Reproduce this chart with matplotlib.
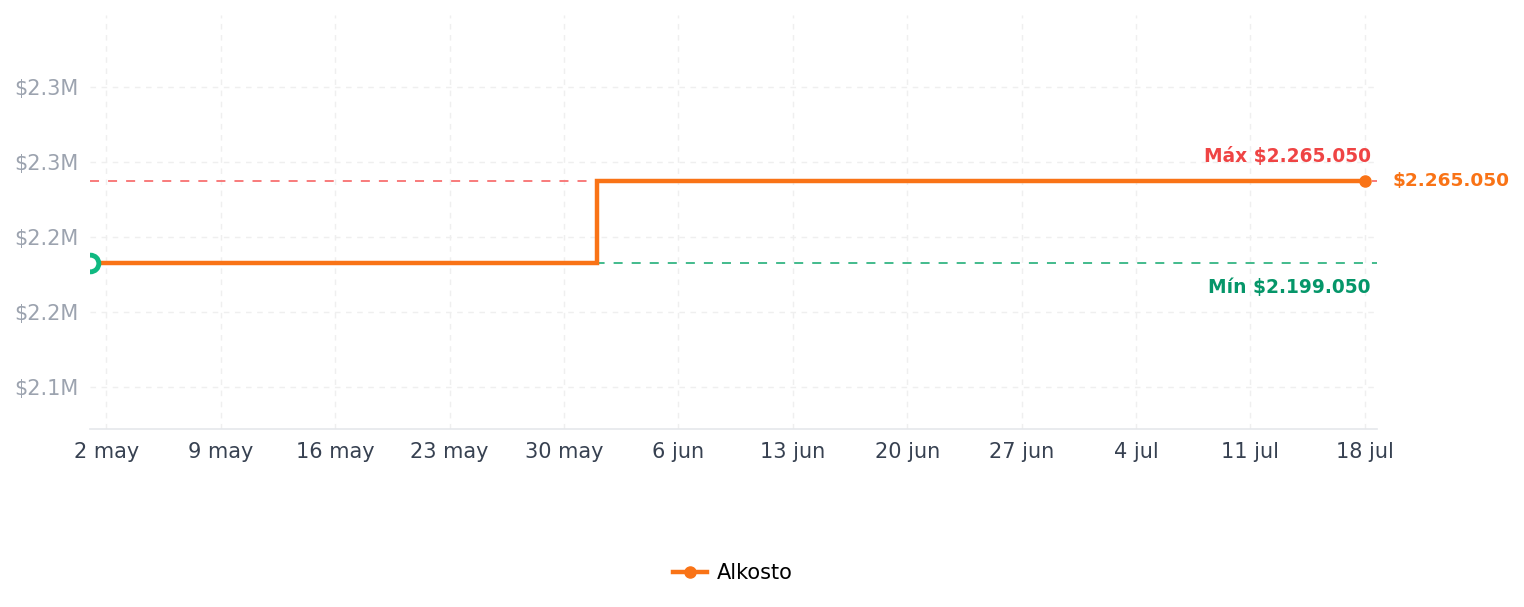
import matplotlib
matplotlib.use("Agg")
import matplotlib.pyplot as plt
from datetime import datetime, timedelta

# Data
dates = [datetime(2025, 5, 1), datetime(2025, 6, 1), datetime(2025, 7, 18)]
prices = [2199050, 2265050, 2265050]
series_name = "Alkosto"
max_price = 2265050
min_price = 2199050
y_ticks = [2100000, 2160000, 2220000, 2280000, 2340000]
months_es = ["ene", "feb", "mar", "abr", "may", "jun", "jul", "ago", "sep", "oct", "nov", "dic"]

def fmt_money(v):
    return "$" + f"{int(v):,}".replace(",", ".")

plt.rcParams['font.family'] = ['DejaVu Sans']
fig = plt.figure(figsize=(15.24, 6.07), dpi=100)
ax = fig.add_axes([90/1524, 1 - 429/607, (1377-90)/1524, (429-15)/607])

orange = "#f97316"
ax.plot(dates, prices, drawstyle="steps-post", color=orange, lw=3.2, zorder=4,
        label=series_name, solid_joinstyle="miter")
ax.plot([dates[-1]], [prices[-1]], "o", color=orange, ms=8, zorder=5)
ax.plot([dates[0]], [prices[0]], "o", mfc="white", mec="#10b981", mew=3.5, ms=12, zorder=6)

ax.axhline(max_price, color="#f87171", lw=1.3, ls=(0, (5, 5)), zorder=2)
ax.axhline(min_price, color="#34b583", lw=1.3, ls=(0, (5, 5)), zorder=2)

x0 = dates[0]
x1 = dates[-1] + timedelta(hours=18)
ax.set_xlim(x0, x1)
ax.set_ylim(2066000, 2398000)

ticks = [datetime(2025, 5, 2) + timedelta(days=7 * i) for i in range(12)]
ax.set_xticks(ticks)
ax.set_xticklabels([f"{d.day} {months_es[d.month-1]}" for d in ticks])
ax.set_yticks(y_ticks)
ax.set_yticklabels([f"${v/1e6:.1f}M" for v in y_ticks])

ax.grid(True, color="#efefef", ls=(0, (4, 4)), lw=1.0)
ax.set_axisbelow(True)
for s in ["top", "right", "left"]:
    ax.spines[s].set_visible(False)
ax.spines["bottom"].set_color("#e5e7eb")
ax.spines["bottom"].set_linewidth(1.2)
ax.tick_params(axis="both", length=0)
ax.tick_params(axis="y", colors="#9ca3af", labelsize=15, pad=8)
ax.tick_params(axis="x", colors="#374151", labelsize=15, pad=9.5)

ax.annotate(f"Máx {fmt_money(max_price)}", xy=(dates[-1], max_price), xytext=(6, 15),
            textcoords="offset pixels", ha="right", va="bottom", color="#ef4444",
            fontsize=13.4, fontweight="bold")
ax.annotate(f"Mín {fmt_money(min_price)}", xy=(dates[-1], min_price), xytext=(6, -15),
            textcoords="offset pixels", ha="right", va="top", color="#059669",
            fontsize=13.4, fontweight="bold")
ax.annotate(fmt_money(prices[-1]), xy=(x1, prices[-1]), xytext=(15, 0),
            textcoords="offset pixels", ha="left", va="center", color=orange,
            fontsize=13.3, fontweight="bold", annotation_clip=False)

handles = [plt.Line2D([], [], color=orange, lw=3.2, marker="o", ms=8)]
fig.legend(handles, [series_name], loc="center", bbox_to_anchor=(733/1524, 1 - 573/607),
           frameon=False, fontsize=15, handlelength=1.6, handletextpad=0.5)

fig.savefig("out.png", dpi=100)
